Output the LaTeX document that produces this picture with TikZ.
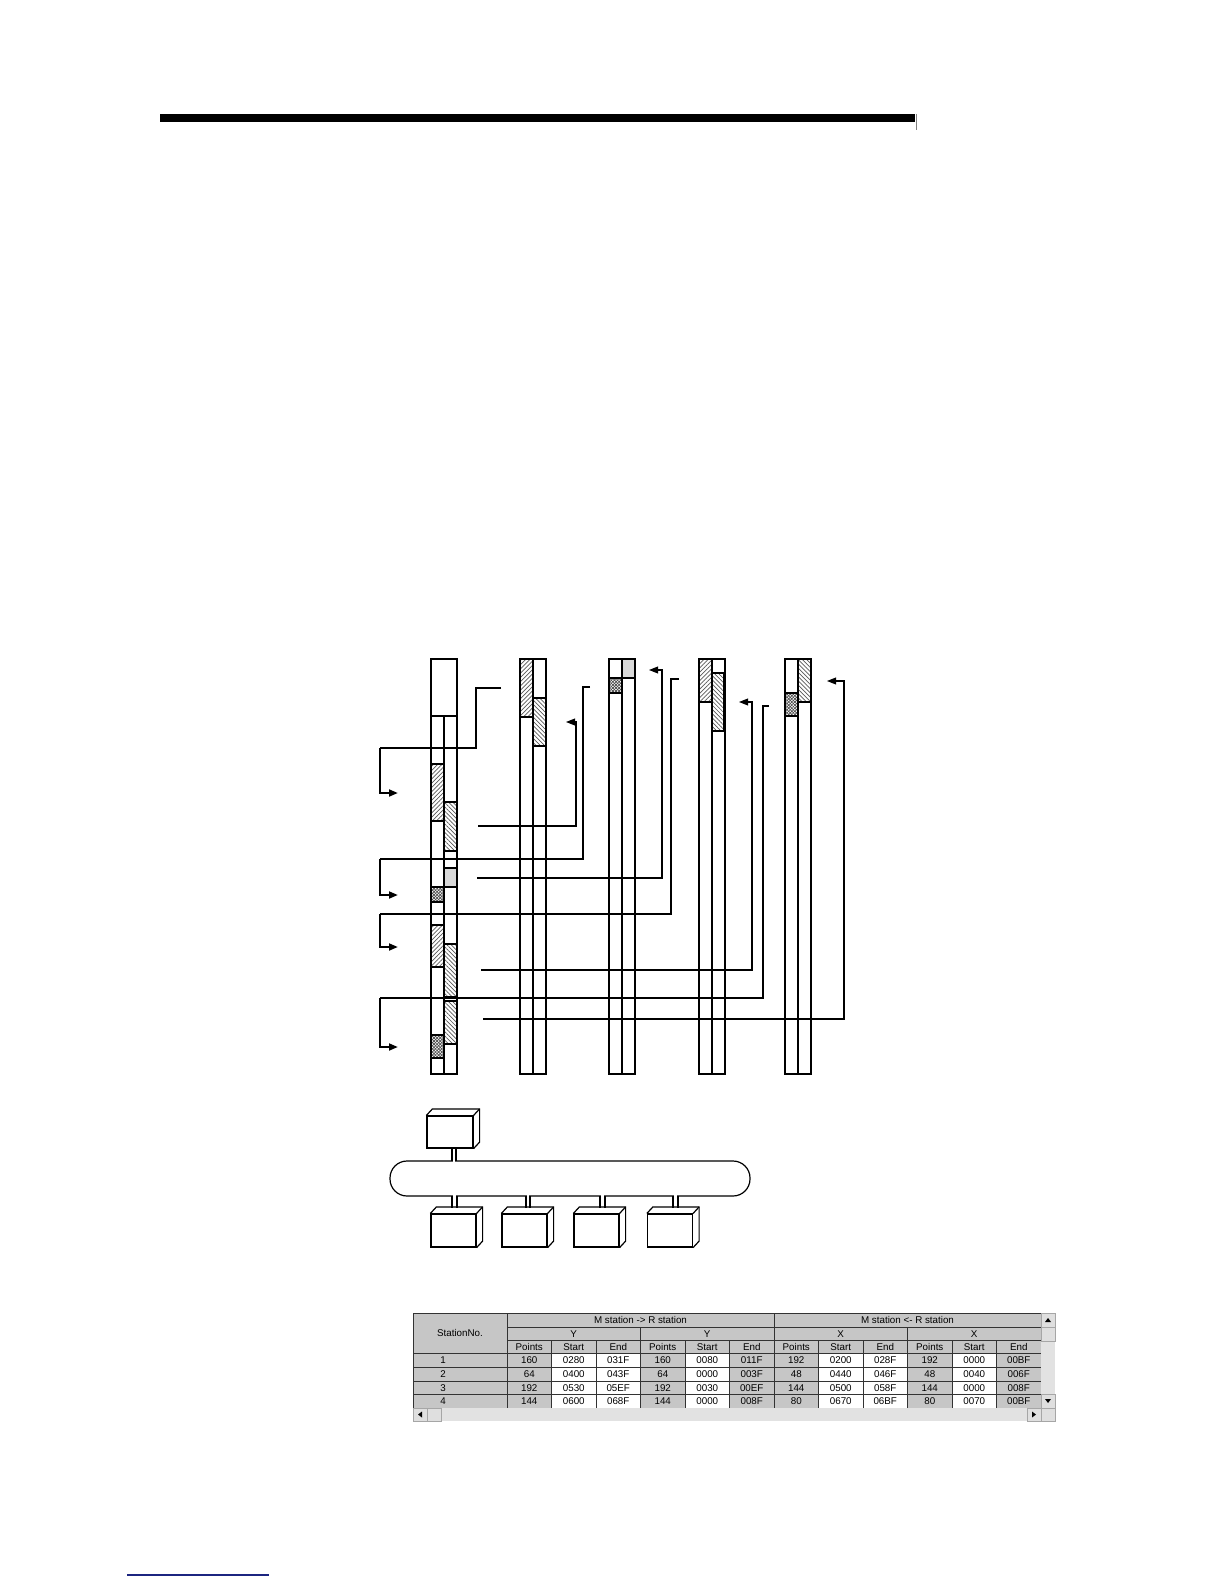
\documentclass[tikz,border=0pt]{standalone}
\usepackage{fontspec}
\newfontfamily\tabfont{Liberation Sans}
\usetikzlibrary{patterns,patterns.meta,arrows.meta,calc}
\definecolor{cellgray}{HTML}{C6C6C6}
\definecolor{barbg}{HTML}{E2E2E2}
\definecolor{linkblue}{HTML}{1C2580}

\begin{document}
\begin{tikzpicture}[x=0.5pt,y=-0.5pt,
    every node/.style={font=\tabfont\fontsize{4.9}{5}\selectfont, inner sep=0pt},
    wire/.style={line width=0.6pt},
    brk/.style={line width=1.1pt},
    tip/.style={-{Triangle[length=4.5pt,width=3.4pt]}},
    hatchA/.style={draw, line width=0.6pt, pattern={Lines[angle=45,distance=1.5pt,line width=0.35pt]}, pattern color=gray!70!black},
    hatchB/.style={draw, line width=0.6pt, pattern={Lines[angle=-45,distance=1.5pt,line width=0.35pt]}, pattern color=gray!70!black},
    xhatch/.style={draw, line width=0.6pt,
      preaction={pattern={Lines[angle=45,distance=1.1pt,line width=0.35pt]}, pattern color=gray!60!black},
      pattern={Lines[angle=-45,distance=1.1pt,line width=0.35pt]}, pattern color=gray!60!black},
    greybox/.style={draw, line width=0.6pt, fill=gray!30},
    stn/.style={draw, line width=0.6pt, fill=white, minimum width=22.5pt, minimum height=16.5pt},
    btn/.style={draw=gray!70, line width=0.4pt, fill=gray!25}
  ]
  \useasboundingbox (0,0) rectangle (1224,1584);

  % page rules
  \fill (160,114) rectangle (915,122);
  \draw[gray, line width=0.4pt] (916,114) -- (916,130);
  \draw[linkblue, line width=0.6pt] (127,1575) -- (269,1575);

  % memory columns
  \foreach \c in {431,520,609,699,785} {
    \draw[wire, fill=white] (\c,659) rectangle ++(26,415);
  }
  \draw[wire] (431,716) -- (457,716);
  \draw[wire] (444,716) -- (444,1074);
  \foreach \c in {533,622,712,798} {
    \draw[wire] (\c,659) -- (\c,1074);
  }

  % master areas
  \draw[hatchA] (431,764) rectangle (444,821);
  \draw[hatchB] (444,802) rectangle (457,851);
  \draw[greybox] (444,868) rectangle (457,887);
  \draw[xhatch] (431,887) rectangle (444,902);
  \draw[hatchA] (431,925) rectangle (444,967);
  \draw[hatchB] (444,944) rectangle (457,997);
  \draw[hatchB] (444,1001) rectangle (457,1044);
  \draw[xhatch] (431,1035) rectangle (444,1058);

  % station areas
  \draw[hatchA] (520,659) rectangle (533,717);
  \draw[hatchB] (533,698) rectangle (546,746);
  \draw[greybox] (622,659) rectangle (635,678);
  \draw[xhatch] (609,678) rectangle (622,693);
  \draw[hatchA] (699,659) rectangle (712,702);
  \draw[hatchB] (712,673) rectangle (724,731);
  \draw[hatchB] (798,659) rectangle (811,702);
  \draw[xhatch] (785,693) rectangle (798,716);

  % leaders to master
  \draw[wire] (501,688) -- (476,688) -- (476,748) -- (380,748);
  \draw[wire] (590,687) -- (583,687) -- (583,859) -- (380,859);
  \draw[wire] (679,679) -- (671,679) -- (671,914) -- (380,914);
  \draw[wire] (769,706) -- (763,706) -- (763,998) -- (380,998);
  \draw[brk, tip] (380,748) -- (380,793) -- (398,793);
  \draw[brk, tip] (380,859) -- (380,895) -- (398,895);
  \draw[brk, tip] (380,914) -- (380,947) -- (398,947);
  \draw[brk, tip] (380,998) -- (380,1047) -- (398,1047);

  % leaders to stations
  \draw[wire, tip] (478,826) -- (576,826) -- (576,722) -- (566,722);
  \draw[wire, tip] (477,878) -- (662,878) -- (662,670) -- (649,670);
  \draw[wire, tip] (481,970) -- (752,970) -- (752,702) -- (739,702);
  \draw[wire, tip] (483,1019) -- (844,1019) -- (844,681) -- (827,681);

  % network
  \node[stn, minimum width=23pt, minimum height=16pt] (m) at (450,1132) {};
  \node[stn] (s1) at (453.5,1230.5) {};
  \node[stn] (s2) at (524.5,1230.5) {};
  \node[stn] (s3) at (596.5,1230.5) {};
  \node[stn] (s4) at (670,1230.5) {};
  \foreach \n in {m,s1,s2,s3,s4} {
    \draw[wire] (\n.north west) -- ++(6,-6.5) -| ($(\n.south east)+(6,-6.5)$) -- (\n.south east);
    \draw[wire] (\n.north east) -- ++(6,-6.5);
  }
  \draw[wire, rounded corners=8.5pt] (390,1161) rectangle (750,1196);
  \fill[white] (452.8,1159) rectangle (455.2,1163);
  \foreach \a/\b in {452/457,526/530,600/605,673/678} {
    \fill[white] (\a+0.8,1194) rectangle (\b-0.8,1198);
    \draw[wire] (\a,1196) -- (\a,1208);
    \draw[wire] (\b,1196) -- (\b,1208);
  }
  \draw[wire] (452,1148) -- (452,1161);
  \draw[wire] (456,1148) -- (456,1161);

  % assignment table
  \fill[cellgray] (413,1313) rectangle (1041,1408);
  \foreach \k in {2,3,5,8,9,11} {
    \fill[white] (507+\k*44.5-44.5,1353) rectangle ++(44.5,55);
  }
  \begin{scope}[line width=0.5pt, draw=black!80]
    \foreach \y in {1313,1353,1367,1381,1394,1408} {
      \draw (413,\y) -- (1041,\y);
    }
    \draw (507,1327) -- (1041,1327);
    \draw (507,1340) -- (1041,1340);
    \draw (413,1313) -- (413,1408);
    \draw (507,1313) -- (507,1408);
    \draw (774,1313) -- (774,1408);
    \draw (1041,1313) -- (1041,1408);
    \draw (640.5,1327) -- (640.5,1408);
    \draw (907.5,1327) -- (907.5,1408);
    \foreach \k in {1,2,4,5,7,8,10,11} {
      \draw (507+\k*44.5,1340) -- (507+\k*44.5,1408);
    }
  \end{scope}
  \node at (460,1333) {StationNo.};
  \node at (640.5,1320) {M station -> R station};
  \node at (907.5,1320) {M station <- R station};
  \foreach \t [count=\k] in {Y,Y,X,X} {
    \node at (507+\k*133.5-66.75,1334) {\t};
  }
  \foreach \k in {0,1,2,3} {
    \node at (529.25+\k*133.5,1347) {Points};
    \node at (573.75+\k*133.5,1347) {Start};
    \node at (618.25+\k*133.5,1347) {End};
  }
  \foreach \y/\s/\vals in {
      1360/1/{160,0280,031F,160,0080,011F,192,0200,028F,192,0000,00BF},
      1374/2/{64,0400,043F,64,0000,003F,48,0440,046F,48,0040,006F},
      1388/3/{192,0530,05EF,192,0030,00EF,144,0500,058F,144,0000,008F},
      1401/4/{144,0600,068F,144,0000,008F,80,0670,06BF,80,0070,00BF}} {
    \node at (443,\y) {\s};
    \foreach \v [count=\k] in \vals {
      \node at (507+\k*44.5-22.25,\y) {\v};
    }
  }

  % scroll bars
  \fill[barbg] (1041,1313) rectangle (1055,1408);
  \fill[barbg] (413,1408) rectangle (1055,1421);
  \draw[btn] (1041,1313) rectangle (1055,1327);
  \draw[btn] (1041,1327) rectangle (1055,1341);
  \draw[btn] (1041,1394) rectangle (1055,1408);
  \draw[btn] (413,1408) rectangle (427,1421);
  \draw[btn] (427,1408) rectangle (441,1421);
  \draw[btn] (1027,1408) rectangle (1041,1421);
  \draw[btn] (1041,1408) rectangle (1055,1421);
  \fill (1045,1322) -- (1051,1322) -- (1048,1318) -- cycle;
  \fill (1045,1399) -- (1051,1399) -- (1048,1403) -- cycle;
  \fill (422,1411.5) -- (422,1417.5) -- (418,1414.5) -- cycle;
  \fill (1032,1411.5) -- (1032,1417.5) -- (1036,1414.5) -- cycle;
\end{tikzpicture}
\end{document}
